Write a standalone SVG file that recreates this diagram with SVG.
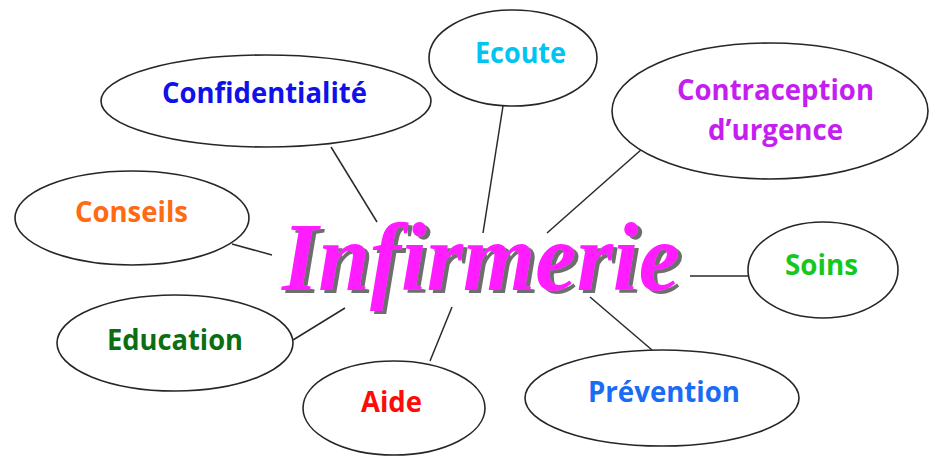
<svg xmlns="http://www.w3.org/2000/svg" width="929" height="457" viewBox="0 0 929 457">
<defs>
<filter id="shadow" x="-5%" y="-20%" width="115%" height="150%">
<feDropShadow dx="4" dy="3" stdDeviation="0.6" flood-color="#6e6e6e" flood-opacity="1"/>
</filter>
</defs>
<style>
.bg{fill:#ffffff}
.node ellipse{fill:#ffffff;stroke:#262626;stroke-width:1.6}
.lbl{font-family:"Open Sans","Liberation Sans",sans-serif;font-weight:700;font-size:28px;text-anchor:middle}
.conn line{stroke:#2a2a2a;stroke-width:1.5}
.title{font-family:"Liberation Serif","DejaVu Serif",serif;font-style:italic;font-weight:700;font-size:98px;text-anchor:middle}
</style>
<rect class="bg" x="0" y="0" width="929" height="457"/>
<g id="connectors" class="conn">
<line x1="331" y1="147" x2="377" y2="222"/>
<line x1="503" y1="106" x2="483" y2="233"/>
<line x1="642" y1="149" x2="547" y2="233"/>
<line x1="232" y1="244" x2="272" y2="255"/>
<line x1="293" y1="340" x2="345" y2="308"/>
<line x1="430" y1="361" x2="452" y2="307"/>
<line x1="590" y1="297" x2="652" y2="350"/>
<line x1="690" y1="276" x2="748" y2="276"/>
</g>
<g id="center">
<text class="title" x="481" y="290" fill="#ff1aff" filter="url(#shadow)" textLength="398" lengthAdjust="spacingAndGlyphs">Infirmerie</text>
</g>
<g id="confidentialite" class="node">
<ellipse cx="266" cy="101" rx="165" ry="46"/>
<text class="lbl" x="264.5" y="103" fill="#1010e8" textLength="205" lengthAdjust="spacingAndGlyphs">Confidentialité</text>
</g>
<g id="ecoute" class="node">
<ellipse cx="513" cy="58" rx="84" ry="48"/>
<text class="lbl" x="520.5" y="63" fill="#00c4f2" textLength="91" lengthAdjust="spacingAndGlyphs">Ecoute</text>
</g>
<g id="contraception" class="node">
<ellipse cx="770" cy="111" rx="158" ry="68"/>
<text class="lbl" x="775.5" y="100" fill="#c51ef0" textLength="197" lengthAdjust="spacingAndGlyphs">Contraception</text>
<text class="lbl" x="775.5" y="140" fill="#c51ef0" textLength="135" lengthAdjust="spacingAndGlyphs">d’urgence</text>
</g>
<g id="conseils" class="node">
<ellipse cx="132" cy="218" rx="117" ry="47"/>
<text class="lbl" x="131.5" y="222" fill="#ff6a12" textLength="113" lengthAdjust="spacingAndGlyphs">Conseils</text>
</g>
<g id="soins" class="node">
<ellipse cx="823" cy="270" rx="75" ry="48"/>
<text class="lbl" x="821.5" y="275" fill="#14c81e" textLength="73" lengthAdjust="spacingAndGlyphs">Soins</text>
</g>
<g id="education" class="node">
<ellipse cx="175" cy="343" rx="118" ry="48"/>
<text class="lbl" x="175" y="350" fill="#0b6e12" textLength="136" lengthAdjust="spacingAndGlyphs">Education</text>
</g>
<g id="aide" class="node">
<ellipse cx="394" cy="408" rx="91" ry="47"/>
<text class="lbl" x="391.5" y="412" fill="#ff0a0a" textLength="61" lengthAdjust="spacingAndGlyphs">Aide</text>
</g>
<g id="prevention" class="node">
<ellipse cx="662" cy="398" rx="137" ry="48"/>
<text class="lbl" x="664" y="402" fill="#1a6cf5" textLength="152" lengthAdjust="spacingAndGlyphs">Prévention</text>
</g>
</svg>
